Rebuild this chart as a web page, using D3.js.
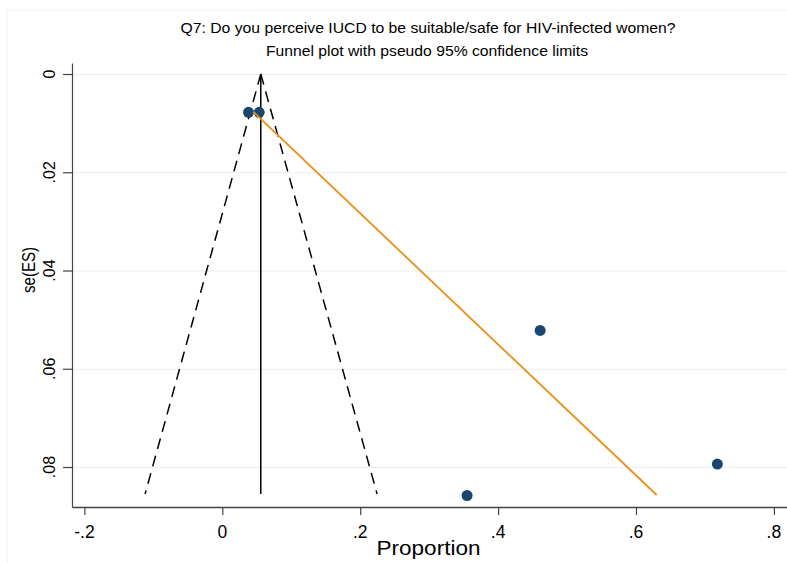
<!DOCTYPE html>
<html>
<head>
<meta charset="utf-8">
<script src="https://cdn.jsdelivr.net/npm/d3@7"></script>
<style>
  body { margin: 0; background: #fff; }
  text { font-family: "Liberation Sans", Arial, sans-serif; fill: #000; }
</style>
</head>
<body>
<div id="chart"></div>
<script>
// studies: proportion (ES) and its standard error
const proportion = [0.038, 0.0535, 0.461, 0.718, 0.355];
const seES = [0.0078, 0.0078, 0.0522, 0.0794, 0.0858];

// pooled estimate and pseudo 95% limits
const pooledLine = [[0.0558, 0], [0.0558, 0.0855]];
const funnelLeft = [[0.0558, 0], [-0.112, 0.0855]];
const funnelRight = [[0.0558, 0], [0.2245, 0.0855]];
// regression line (orange)
const eggerLine = [[0.045, 0.0077], [0.630, 0.0857]];

const xTicks = [-0.2, 0, 0.2, 0.4, 0.6, 0.8];
const xTickLabels = ["-.2", "0", ".2", ".4", ".6", ".8"];
const yTicks = [0, 0.02, 0.04, 0.06, 0.08];
const yTickLabels = ["0", ".02", ".04", ".06", ".08"];
const titleLines = ["Q7: Do you perceive IUCD to be suitable/safe for HIV-infected women?",
                    "Funnel plot with pseudo 95% confidence limits"];

const W = 787, H = 563;
const plot = { left: 72, right: 787, top: 63, bottom: 507 };

const svg = d3.select("#chart").append("svg")
    .attr("width", W).attr("height", H);

// faint outer frame
svg.append("rect")
    .attr("x", 7).attr("y", 10).attr("width", W).attr("height", H)
    .attr("fill", "none").attr("stroke", "#f0f0f0");

const x = d3.scaleLinear().domain([-0.218, 0.819]).range([plot.left, plot.right]);
const y = d3.scaleLinear().domain([-0.00224, 0.08814]).range([plot.top, plot.bottom]);

// grid lines
svg.append("g")
    .attr("transform", `translate(${plot.left},0)`)
    .call(d3.axisRight(y).tickValues(yTicks).tickSize(plot.right - plot.left).tickFormat(""))
    .call(g => g.select(".domain").remove())
    .selectAll("line").attr("stroke", "#e6eff1");

// y axis
const yAxis = svg.append("g")
    .attr("transform", `translate(${plot.left},0)`)
    .call(d3.axisLeft(y).tickValues(yTicks).tickSize(9).tickSizeOuter(0).tickFormat(""));
yAxis.select(".domain").attr("stroke", "#444").attr("stroke-width", 1.2);
yAxis.selectAll(".tick line").attr("stroke", "#444").attr("stroke-width", 1.2);

svg.append("g").selectAll("text")
    .data(yTicks).join("text")
    .attr("transform", d => `translate(55,${y(d)}) rotate(-90)`)
    .attr("text-anchor", "middle")
    .attr("font-size", 16)
    .text((d, i) => yTickLabels[i]);

svg.append("text")
    .attr("transform", "translate(35,270) rotate(-90)")
    .attr("text-anchor", "middle")
    .attr("font-size", 18)
    .attr("textLength", 46).attr("lengthAdjust", "spacingAndGlyphs")
    .text("se(ES)");

// x axis
const xAxis = svg.append("g")
    .attr("transform", `translate(0,${plot.bottom})`)
    .call(d3.axisBottom(x).tickValues(xTicks).tickSize(8).tickSizeOuter(0).tickFormat(""));
xAxis.select(".domain").attr("stroke", "#444").attr("stroke-width", 1.5);
xAxis.selectAll(".tick line").attr("stroke", "#444").attr("stroke-width", 1.2);

svg.append("g").selectAll("text")
    .data(xTicks).join("text")
    .attr("x", d => x(d)).attr("y", 538)
    .attr("text-anchor", "middle")
    .attr("font-size", 17.5)
    .text((d, i) => xTickLabels[i]);

svg.append("text")
    .attr("x", 428.5).attr("y", 555)
    .attr("text-anchor", "middle")
    .attr("font-size", 21)
    .attr("textLength", 104).attr("lengthAdjust", "spacingAndGlyphs")
    .text("Proportion");

// title
svg.append("text")
    .attr("x", 428).attr("y", 33)
    .attr("text-anchor", "middle").attr("font-size", 14)
    .attr("textLength", 495).attr("lengthAdjust", "spacingAndGlyphs")
    .text(titleLines[0]);
svg.append("text")
    .attr("x", 427).attr("y", 56)
    .attr("text-anchor", "middle").attr("font-size", 14)
    .attr("textLength", 322).attr("lengthAdjust", "spacingAndGlyphs")
    .text(titleLines[1]);

const line = d3.line().x(d => x(d[0])).y(d => y(d[1]));

// funnel limits
[funnelLeft, funnelRight].forEach(f => {
    svg.append("path")
        .attr("d", line(f))
        .attr("fill", "none").attr("stroke", "#000")
        .attr("stroke-width", 1.5)
        .attr("stroke-dasharray", "11,7");
});

svg.append("path")
    .attr("d", line(pooledLine))
    .attr("fill", "none").attr("stroke", "#000")
    .attr("stroke-width", 1.5);

// studies
svg.append("g").selectAll("circle")
    .data(proportion).join("circle")
    .attr("cx", d => x(d))
    .attr("cy", (d, i) => y(seES[i]))
    .attr("r", 5.5)
    .attr("fill", "#1a476f");

svg.append("path")
    .attr("d", line(eggerLine))
    .attr("fill", "none").attr("stroke", "#e8901a")
    .attr("stroke-width", 1.8);
</script>
</body>
</html>
